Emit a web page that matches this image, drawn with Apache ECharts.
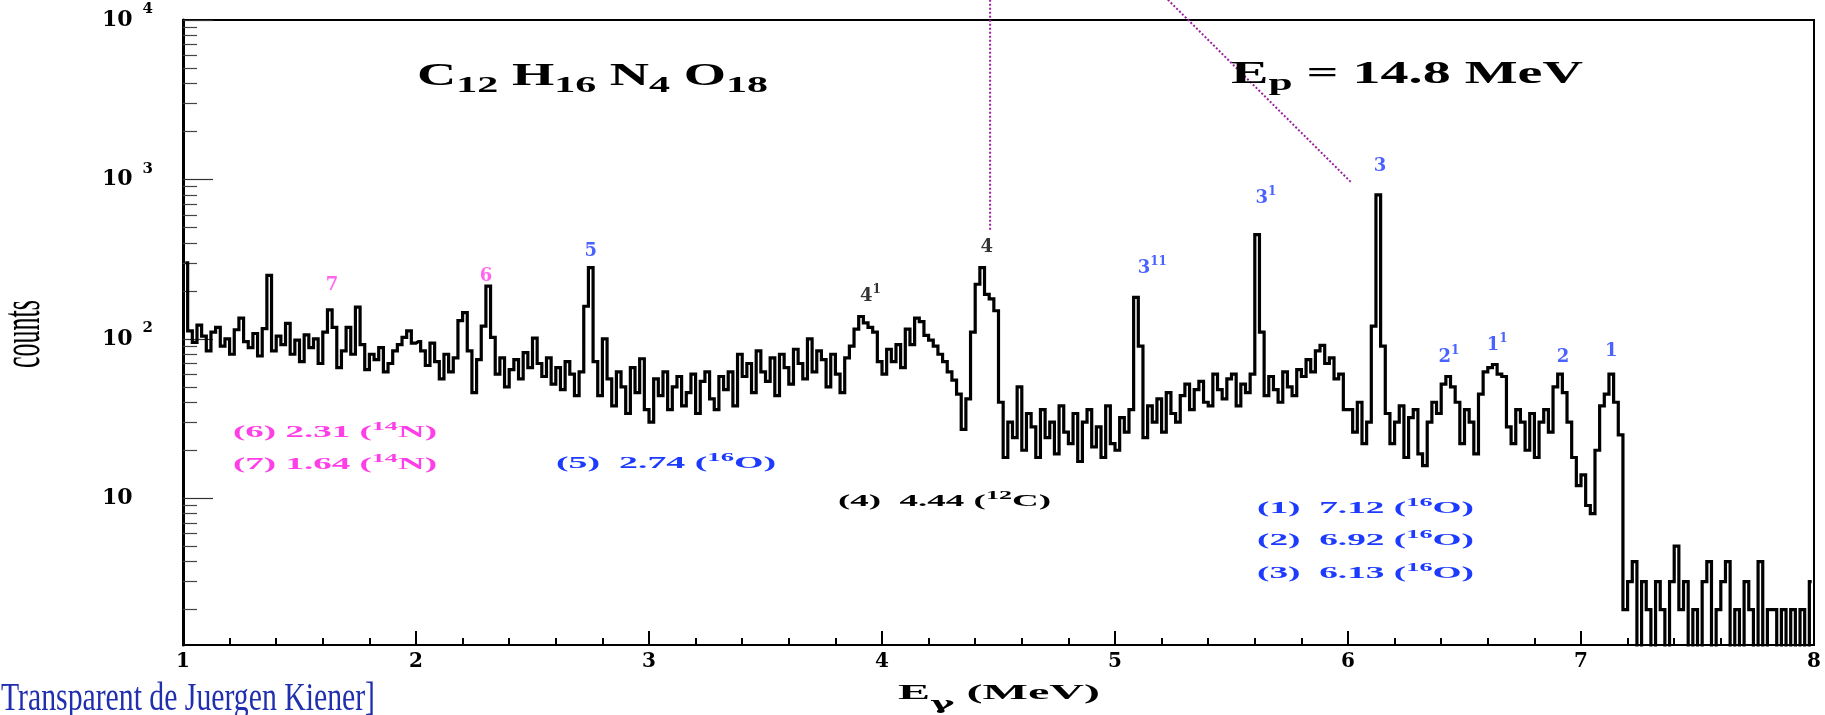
<!DOCTYPE html>
<html>
<head>
<meta charset="utf-8">
<title>Gamma spectrum C12 H16 N4 O18, Ep = 14.8 MeV</title>
<script src="https://cdn.jsdelivr.net/npm/echarts@6.0.0/dist/echarts.min.js"></script>
<style>
html, body { margin: 0; padding: 0; background: #ffffff; }
#chart { width: 1825px; height: 715px; }
</style>
</head>
<body>
<div id="chart"></div>
<script>
// ------------------------------------------------------------------
// DATA
// ------------------------------------------------------------------
const binWidth = 0.02;        // MeV per channel
const firstBinCenter = 1.01;  // MeV

// counts per channel, one array per MeV
const counts_1_2 = [300,112,95,122,104,84,110,118,90,100, 80,114,135,96,88,108,78,116,250,84,
                    104,92,125,80,98,72,106,88,100,70, 110,152,118,66,84,118,80,158,92,64,
                    80,74,88,62,70,84,92,102,112,94];
const counts_2_3 = [96,84,68,94,72,56,80,62,76,130, 146,84,46,74,120,214,102,60,76,50,
                    64,74,56,82,66,101,70,58,76,52, 66,48,72,60,44,62,160,280,72,44,
                    100,56,38,62,50,34,66,46,75,36];
const counts_3_4 = [30,56,44,62,36,50,58,38,46,60, 34,54,62,42,36,58,48,62,38,80,
                    58,70,46,84,62,54,76,44,80,66, 52,86,70,56,100,62,84,74,50,80,
                    60,46,76,90,115,138,126,118,110,72];
const counts_4_5 = [60,86,72,92,66,115,92,135,128,105, 98,90,80,72,62,55,45,27,42,110,
                    220,280,190,178,150,40,18,30,24,50, 20,34,28,18,36,24,30,19,38,26,
                    22,34,17,30,36,21,28,18,38,22];
const counts_5_6 = [20,32,26,36,182,90,24,38,30,42, 26,46,34,30,44,52,36,48,54,40,
                    38,60,48,42,56,60,38,52,46,60, 450,110,44,58,48,40,62,50,44,64,
                    58,74,62,84,91,70,76,56,60,36];
const counts_6_7 = [36,26,40,22,30,120,800,90,34,22, 30,38,18,32,36,19,16,30,40,34,
                    52,58,50,40,22,36,30,19,45,62, 66,69,60,58,28,22,36,30,20,34,
                    18,30,36,26,50,60,46,30,18,12];
const counts_7_8 = [14,9,8,20,38,45,60,40,25,2, 3,4,1,3,2,1,3,2,1,3,
                    5,2,3,1,2,1,3,4,1,2, 3,4,1,2,1,3,2,1,4,1,
                    2,2,1,2,1,2,1,2,1,3];

// axes
const xMin = 1, xMax = 8, xStep = 1;
const yMin = 1.2, yMax = 10000;
const yMajorTicks = [10, 100, 1000, 10000];
const yMajorExponents = ['', '2', '3', '4'];
const yMinorTicks = [2,3,4,5,6,7,8,9, 20,30,40,50,60,70,80,90,
                     200,300,400,500,600,700,800,900, 2000,3000,4000,5000,6000,7000,8000,9000];

// peak labels (energy, counts where the label sits)
const peakNames   = ['7','6','5','4','4','3','3','3','2','1','2','1'];
const peakPrimes  = ['','','','','1','11','1','','1','1','',''];
const peakNucleus = ['N','N','O','C','C','O','O','O','O','O','O','O'];
const peakLabelE      = [1.64, 2.30, 2.75, 4.45, 3.95, 5.16, 5.648, 6.137, 6.433, 6.64, 6.923, 7.13];
const peakLabelCounts = [217, 247, 355, 376, 186, 277, 764, 1211, 77, 91, 76, 84];

// dotted pointer lines (E, counts)
const pointerVertical = [[4.464, 13400], [4.464, 481]];
const pointerDiagonal = [[5.227, 13400], [6.017, 948]];

// line list
const lineIds      = ['(6)', '(7)', '(5) ', '(4) ', '(1) ', '(2) ', '(3) '];
const lineEnergies = ['2.31', '1.64', '2.74', '4.44', '7.12', '6.92', '6.13'];
const lineMass     = ['14', '14', '16', '12', '16', '16', '16'];
const lineElement  = ['N', 'N', 'O', 'C', 'O', 'O', 'O'];

// ------------------------------------------------------------------
// STYLE / LAYOUT
// ------------------------------------------------------------------
const nucleusColor = { N: '#ff3ee8', O: '#1d3bff', C: '#000000' };
const SERIF = 'Liberation Serif';
const WIDE_SERIF = 'DejaVu Serif';

const allCounts = [].concat(counts_1_2, counts_2_3, counts_3_4, counts_4_5, counts_5_6, counts_6_7, counts_7_8);
const spectrum = allCounts.map((c, i) => [+(firstBinCenter + i * binWidth).toFixed(4), c]);

// text helpers (stretched ROOT-style labels)
const mctx = document.createElement('canvas').getContext('2d');
function fontStr(st) { return (st.fontWeight || 'normal') + ' ' + st.fontSize + 'px "' + st.fontFamily + '"'; }
function naturalWidth(parts, rich) {
  let w = 0;
  parts.forEach(([k, t]) => { mctx.font = fontStr(rich[k]); w += mctx.measureText(t).width; });
  return w;
}
function colored(rich, color) {
  const r = {};
  Object.keys(rich).forEach(k => { r[k] = Object.assign({}, rich[k], { fill: color }); });
  return r;
}
function stretchedText(parts, richBase, x, y, targetW, color) {
  const rich = colored(richBase, color);
  const s = targetW / naturalWidth(parts, rich);
  return {
    type: 'text', x: x, y: y, scaleX: s, silent: true, z: 50,
    style: {
      text: parts.map(([k, t]) => '{' + k + '|' + t + '}').join(''),
      rich: rich, fill: color, align: 'left', verticalAlign: 'middle'
    }
  };
}

const titleRich = {
  m:   { fontFamily: SERIF, fontWeight: 'bold', fontSize: 31, lineHeight: 42 },
  sub: { fontFamily: SERIF, fontWeight: 'bold', fontSize: 24, lineHeight: 24, verticalAlign: 'bottom' }
};
const axisTitleRich = {
  m:   { fontFamily: SERIF, fontWeight: 'bold', fontSize: 22, lineHeight: 40 },
  sub: { fontFamily: WIDE_SERIF, fontWeight: 'bold', fontSize: 17, lineHeight: 20, verticalAlign: 'bottom' }
};
const listRich = {
  m:   { fontFamily: SERIF, fontWeight: 'bold', fontSize: 17, lineHeight: 24 },
  sup: { fontFamily: SERIF, fontWeight: 'bold', fontSize: 12, lineHeight: 14, verticalAlign: 'top' }
};

const listLayout = [
  { x: 233,  y: 433, w: 204 },
  { x: 233,  y: 465, w: 204 },
  { x: 556,  y: 464, w: 220 },
  { x: 838,  y: 502, w: 213 },
  { x: 1257, y: 509, w: 217 },
  { x: 1257, y: 541, w: 217 },
  { x: 1257, y: 574, w: 217 }
];

const graphics = [];
graphics.push(stretchedText(
  [['m', 'C'], ['sub', '12'], ['m', ' H'], ['sub', '16'], ['m', ' N'], ['sub', '4'], ['m', ' O'], ['sub', '18']],
  titleRich, 417, 77, 351, '#000000'));
graphics.push(stretchedText(
  [['m', 'E'], ['sub', 'p'], ['m', ' = 14.8 MeV']],
  titleRich, 1231, 75, 352, '#000000'));
graphics.push(stretchedText(
  [['m', 'E'], ['sub', 'γ'], ['m', ' (MeV)']],
  axisTitleRich, 898, 693, 202, '#000000'));
lineIds.forEach((id, i) => {
  const L = listLayout[i];
  graphics.push(stretchedText(
    [['m', id + ' ' + lineEnergies[i] + ' ('], ['sup', lineMass[i]], ['m', lineElement[i] + ')']],
    listRich, L.x, L.y, L.w, nucleusColor[lineElement[i]]));
});
// rotated y-axis title
graphics.push({
  type: 'text', x: 25, y: 334, rotation: Math.PI / 2, scaleY: 2.1, silent: true, z: 50,
  style: { text: 'counts', fontFamily: SERIF, fontSize: 26, fill: '#000000', align: 'center', verticalAlign: 'middle' }
});
// slide caption
graphics.push(stretchedText(
  [['m', 'Transparent de Juergen Kiener]']],
  { m: { fontFamily: SERIF, fontWeight: 'normal', fontSize: 41, lineHeight: 46 } },
  1, 699, 374, '#1f2fae'));

const peakLabelData = peakNames.map((n, i) => ({
  value: [peakLabelE[i], peakLabelCounts[i]],
  label: {
    color: nucleusColor[peakNucleus[i]],
    formatter: peakPrimes[i] ? '{m|' + n + '}{s|' + peakPrimes[i] + '}' : '{m|' + n + '}'
  }
}));

const chart = echarts.init(document.getElementById('chart'), null, { renderer: 'canvas' });
chart.setOption({
  animation: false,
  backgroundColor: '#ffffff',
  textStyle: { fontFamily: SERIF },
  grid: {
    left: 183, right: 11, top: 20, bottom: 70,
    show: true, borderColor: '#000000', borderWidth: 2, backgroundColor: 'transparent',
    containLabel: false, outerBoundsMode: 'none'
  },
  xAxis: {
    type: 'value', min: xMin, max: xMax, interval: xStep,
    axisLine: { show: true, onZero: false, lineStyle: { color: '#000', width: 2 } },
    axisTick: { show: true, inside: true, length: 14, lineStyle: { color: '#000', width: 2 } },
    minorTick: { show: true, splitNumber: 5, length: 7, lineStyle: { color: '#000', width: 2 } },
    axisLabel: { margin: 7, color: '#000', fontFamily: WIDE_SERIF, fontWeight: 'bold', fontSize: 20 },
    splitLine: { show: false }, minorSplitLine: { show: false }
  },
  yAxis: [
    {
      type: 'log', logBase: 10, min: yMin, max: yMax, position: 'left',
      axisLine: { show: true, lineStyle: { color: '#000', width: 3 } },
      axisTick: { show: true, inside: true, length: 30, customValues: yMajorTicks, lineStyle: { color: '#333', width: 1.2 } },
      axisLabel: {
        show: true, customValues: yMajorTicks, align: 'left', margin: 81,
        formatter: function (v) {
          let idx = 0;
          yMajorTicks.forEach((t, i) => { if (Math.abs(t - v) / t < 1e-6) idx = i; });
          const e = yMajorExponents[idx];
          return e ? '{b|10}{s|' + e + '}' : '{b|10}';
        },
        rich: {
          b: { fontFamily: WIDE_SERIF, fontWeight: 'bold', fontSize: 22, lineHeight: 36, color: '#000' },
          s: { fontFamily: WIDE_SERIF, fontWeight: 'bold', fontSize: 15, lineHeight: 17, verticalAlign: 'top', color: '#000', padding: [0, 0, 0, 10] }
        }
      },
      splitLine: { show: false }
    },
    {
      type: 'log', logBase: 10, min: yMin, max: yMax, position: 'left', offset: 0,
      axisLine: { show: false },
      axisTick: { show: true, inside: true, length: 14, customValues: yMinorTicks, lineStyle: { color: '#444', width: 1.2 } },
      axisLabel: { show: false },
      splitLine: { show: false }
    }
  ],
  series: [
    {
      name: 'spectrum', type: 'line', data: spectrum, step: 'middle',
      symbol: 'none', showSymbol: false, clip: true, z: 3,
      lineStyle: { color: '#000000', width: 3.2, join: 'miter' }
    },
    {
      name: 'pointer1', type: 'line', data: pointerVertical, symbol: 'none', showSymbol: false,
      clip: false, z: 4, silent: true,
      lineStyle: { color: '#9c1f9f', width: 2, type: 'dotted' }
    },
    {
      name: 'pointer2', type: 'line', data: pointerDiagonal, symbol: 'none', showSymbol: false,
      clip: false, z: 4, silent: true,
      lineStyle: { color: '#9c1f9f', width: 2, type: 'dotted' }
    },
    {
      name: 'peaks', type: 'scatter', data: peakLabelData, symbolSize: 1, silent: true, z: 6,
      itemStyle: { color: 'rgba(0,0,0,0)' },
      label: {
        show: true, position: 'inside',
        rich: {
          m: { fontFamily: WIDE_SERIF, fontWeight: 'bold', fontSize: 18, lineHeight: 24 },
          s: { fontFamily: WIDE_SERIF, fontWeight: 'bold', fontSize: 12, lineHeight: 13, verticalAlign: 'top' }
        }
      }
    }
  ],
  graphic: graphics
});
</script>
</body>
</html>
